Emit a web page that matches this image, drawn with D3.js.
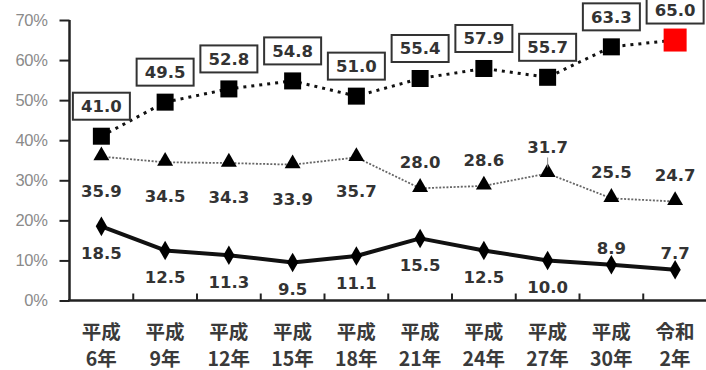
<!DOCTYPE html>
<html>
<head>
<meta charset="utf-8">
<script src="https://cdn.jsdelivr.net/npm/d3@7/dist/d3.min.js"></script>
<style>
  html, body { margin: 0; padding: 0; background: #fff; }
  svg { display: block; }
</style>
</head>
<body>
<svg id="chart" width="706" height="370"></svg>
<script>
// Survey years (era name / year)
const eraNames = ["平成", "平成", "平成", "平成", "平成", "平成", "平成", "平成", "平成", "令和"];
const eraYears = ["6年", "9年", "12年", "15年", "18年", "21年", "24年", "27年", "30年", "2年"];

// Percentages for the three series
const squareValues   = [41.0, 49.5, 52.8, 54.8, 51.0, 55.4, 57.9, 55.7, 63.3, 65.0];
const triangleValues = [35.9, 34.5, 34.3, 33.9, 35.7, 28.0, 28.6, 31.7, 25.5, 24.7];
const diamondValues  = [18.5, 12.5, 11.3, 9.5, 11.1, 15.5, 12.5, 10.0, 8.9, 7.7];

// Where each value label sits relative to its marker
const triangleLabelSide = ["below", "below", "below", "below", "below", "above", "above", "above", "above", "above"];
const diamondLabelSide  = ["below", "below", "below", "below", "below", "below", "below", "below", "above", "above"];

// Y axis ticks
const yTicks = [0, 10, 20, 30, 40, 50, 60, 70];

const cats = eraYears.map((y, i) => i);
const svg = d3.select("#chart");

const x = d3.scaleBand().domain(cats).range([69.5, 707]);
const y = d3.scaleLinear().domain([0, 70]).range([300.5, 20]);
const cx = i => x(i) + x.bandwidth() / 2;

const numFont = "'DejaVu Sans', Verdana, sans-serif";
const labelColor = "#333";

// ---- Y axis ----
const yAxis = d3.axisLeft(y).tickValues(yTicks).tickSize(10).tickPadding(12)
  .tickFormat(d => d + "%");
const gy = svg.append("g").attr("transform", "translate(69.5,0)").call(yAxis);
gy.select(".domain").attr("stroke", "#222").attr("stroke-width", 2.5)
  .attr("d", `M0,${y(70)}V${y(0)}`);
gy.selectAll(".tick line").attr("stroke", "#222").attr("stroke-width", 2);
gy.selectAll(".tick text")
  .attr("fill", "#8a8a8a")
  .style("font-family", "'Liberation Sans', Arial, sans-serif")
  .style("font-size", "16.5px")
  .style("letter-spacing", "-0.3px");

// ---- X axis ----
const gx = svg.append("g");
gx.append("line")
  .attr("x1", 68).attr("x2", 706)
  .attr("y1", y(0)).attr("y2", y(0))
  .attr("stroke", "#222").attr("stroke-width", 2.5);
gx.selectAll("line.tick").data(cats.slice(1)).join("line")
  .attr("class", "tick")
  .attr("x1", i => x(i)).attr("x2", i => x(i))
  .attr("y1", y(0)).attr("y2", y(0) - 7)
  .attr("stroke", "#222").attr("stroke-width", 2);

const xl = gx.selectAll("text.cat").data(cats).join("text")
  .attr("class", "cat")
  .attr("text-anchor", "middle")
  .attr("fill", "#3a3a3a")
  .style("font-family", "'Noto Sans CJK JP', sans-serif")
  .style("font-weight", "700")
  .style("font-size", "19.5px");
xl.append("tspan").attr("x", i => cx(i)).attr("y", 339).text(i => eraNames[i]);
xl.append("tspan").attr("x", i => cx(i)).attr("y", 365.5).text(i => eraYears[i]);

// ---- Lines ----
const lineOf = vals => d3.line().x((d, i) => cx(i)).y(d => y(d))(vals);

svg.append("path").attr("d", lineOf(triangleValues))
  .attr("fill", "none").attr("stroke", "#666").attr("stroke-width", 1.8)
  .attr("stroke-dasharray", "2,1.6");

svg.append("path").attr("d", lineOf(diamondValues))
  .attr("fill", "none").attr("stroke", "#111").attr("stroke-width", 4)
  .attr("stroke-linejoin", "round");

svg.append("path").attr("d", lineOf(squareValues))
  .attr("fill", "none").attr("stroke", "#111").attr("stroke-width", 3)
  .attr("stroke-dasharray", "3,5");

// ---- Markers ----
const last = squareValues.length - 1;
svg.selectAll("rect.sq").data(squareValues).join("rect")
  .attr("class", "sq")
  .attr("width", (d, i) => i === last ? 23 : 17)
  .attr("height", (d, i) => i === last ? 23 : 17)
  .attr("x", (d, i) => cx(i) - (i === last ? 11.5 : 8.5))
  .attr("y", (d, i) => y(d) - (i === last ? 11.5 : 8.5))
  .attr("fill", (d, i) => i === last ? "#ff0000" : "#000");

const tri = d3.symbol().type(d3.symbolTriangle).size(110);
svg.selectAll("path.tri").data(triangleValues).join("path")
  .attr("class", "tri")
  .attr("d", tri)
  .attr("transform", (d, i) => `translate(${cx(i)},${y(d) - 1})`)
  .attr("fill", "#000");

const dia = d3.symbol().type(d3.symbolDiamond).size(110);
svg.selectAll("path.dia").data(diamondValues).join("path")
  .attr("class", "dia")
  .attr("d", dia)
  .attr("transform", (d, i) => `translate(${cx(i)},${y(d)})`)
  .attr("fill", "#000");

// ---- Value labels ----
function valueText(sel) {
  return sel.attr("text-anchor", "middle")
    .attr("dy", "0.36em")
    .attr("fill", labelColor)
    .style("font-family", numFont)
    .style("font-weight", "700")
    .style("font-size", "16.5px")
    .text(d => d.toFixed(1));
}

// boxed labels above the square series
const boxW = 57, boxH = 27, boxOff = 30;
const sqLab = svg.selectAll("g.sqlab").data(squareValues).join("g")
  .attr("class", "sqlab")
  .attr("transform", (d, i) => `translate(${cx(i)},${y(d) - boxOff})`);
sqLab.append("rect")
  .attr("x", -boxW / 2).attr("y", -boxH / 2)
  .attr("width", boxW).attr("height", boxH)
  .attr("fill", "#fff").attr("stroke", "#333").attr("stroke-width", 2);
valueText(sqLab.append("text").attr("x", 0).attr("y", 0));

// triangle series labels
const triOff = { below: 34, above: -26 };
valueText(svg.selectAll("text.trilab").data(triangleValues).join("text")
  .attr("class", "trilab")
  .attr("x", (d, i) => cx(i))
  .attr("y", (d, i) => y(d) + triOff[triangleLabelSide[i]]));

// short leader for the label lifted furthest from its marker
const leadIdx = triangleValues.indexOf(d3.max(triangleValues.filter((d, i) => triangleLabelSide[i] === "above")));
svg.append("line")
  .attr("x1", cx(leadIdx)).attr("x2", cx(leadIdx))
  .attr("y1", y(triangleValues[leadIdx]) + triOff.above + 10)
  .attr("y2", y(triangleValues[leadIdx]) - 6)
  .attr("stroke", "#888").attr("stroke-width", 1);

// diamond series labels
const diaOff = { below: 27, above: -17 };
valueText(svg.selectAll("text.dialab").data(diamondValues).join("text")
  .attr("class", "dialab")
  .attr("x", (d, i) => cx(i))
  .attr("y", (d, i) => y(d) + diaOff[diamondLabelSide[i]]));
</script>
</body>
</html>
